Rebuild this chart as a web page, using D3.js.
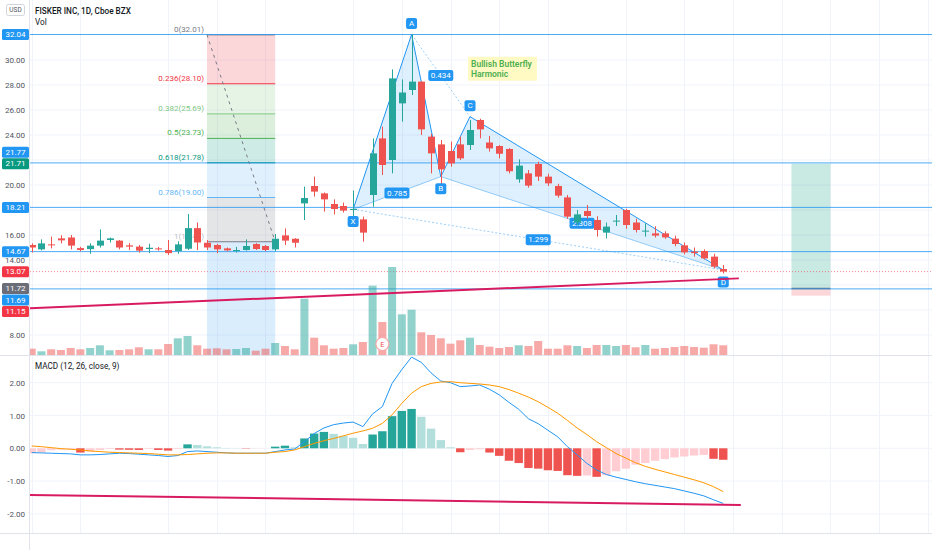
<!DOCTYPE html>
<html>
<head>
<meta charset="utf-8">
<script src="https://cdn.jsdelivr.net/npm/d3@7"></script>
<style>
  body { margin: 0; background: #fff; }
  svg { display: block; font-family: Roboto, "DejaVu Sans", sans-serif; }
</style>
</head>
<body>
<svg id="chart" width="932" height="550"></svg>
<script>
// trading sessions (2021), the last ones are future space on the time axis
const sessions = ["01-04","01-05","01-06","01-07","01-08","01-11","01-12","01-13","01-14","01-15","01-19","01-20","01-21","01-22","01-25","01-26","01-27","01-28","01-29",
  "02-01","02-02","02-03","02-04","02-05","02-08","02-09","02-10","02-11","02-12","02-16","02-17","02-18","02-19","02-22","02-23","02-24","02-25","02-26",
  "03-01","03-02","03-03","03-04","03-05","03-08","03-09","03-10","03-11","03-12","03-15","03-16","03-17","03-18","03-19","03-22","03-23","03-24","03-25","03-26","03-29","03-30","03-31",
  "04-01","04-05","04-06","04-07","04-08","04-09","04-12","04-13","04-14","04-15","04-16",
  "04-19","04-20","04-21","04-22","04-23","04-26","04-27","04-28","04-29","04-30","05-03","05-04","05-05","05-06","05-07","05-10","05-11","05-12","05-13","05-14","05-17"];

const opens = [15.2,14.85,15.25,15.73,15.8,14.95,14.87,15.15,15.6,15.55,15.17,15.07,14.88,14.93,14.8,14.72,14.9,16.55,15.38,15.2,14.93,14.75,14.8,15.28,15.12,14.85,15.97,15.7,18.53,19.92,19.33,18.48,18.32,18.03,17.25,19.2,23.73,22.0,26.53,27.6,28.27,23.87,23.25,22.72,23.25,23.2,25.2,23.4,23.12,22.88,20.45,20.93,21.68,20.67,19.92,19.01,16.99,17.92,17.2,16.19,17.1,18.0,17.0,16.27,16.13,16.13,15.71,15.17,14.67,14.72,14.27,13.28];
const highs = [15.33,15.65,15.87,15.98,16.0,15.05,15.33,16.45,15.8,15.6,15.35,15.2,15.3,15.05,15.6,15.5,17.68,17.0,15.6,15.3,15.0,15.05,15.65,15.35,15.2,16.08,16.53,15.75,19.87,20.67,19.4,18.85,18.6,19.55,17.47,23.73,24.67,29.25,28.45,32.04,28.3,24.1,23.6,23.47,23.87,25.2,25.3,23.92,23.2,22.95,22.05,21.2,21.87,20.9,20.1,19.2,18.0,18.4,17.5,17.0,17.6,18.1,17.3,16.93,16.7,16.3,15.95,15.4,15.0,14.85,14.5,13.6];
const lows = [14.6,14.77,14.93,15.33,14.85,14.7,14.5,15.0,15.4,14.85,14.8,14.6,14.55,14.75,14.4,14.5,14.8,14.8,14.8,14.55,14.7,14.6,14.75,14.8,14.7,14.72,15.2,15.0,17.2,19.07,17.87,17.65,17.8,17.47,15.47,18.27,20.8,20.93,25.07,27.2,24.0,20.93,19.28,21.47,22.0,22.8,23.73,22.67,22.13,20.93,20.18,19.79,20.32,19.92,18.99,17.3,16.8,17.3,15.87,15.73,16.72,16.5,16.2,15.87,15.8,15.7,15.1,14.45,14.27,14.05,13.33,12.93];
const closes = [15.0,15.33,15.18,15.57,15.15,14.8,15.15,15.55,15.73,15.0,15.07,14.75,14.98,14.87,14.55,15.25,16.55,15.4,15.0,14.85,14.77,14.8,15.12,14.88,14.8,15.7,15.55,15.38,18.96,19.47,18.85,18.08,17.95,18.08,16.19,22.53,21.6,28.53,27.4,28.27,24.45,22.53,21.25,21.73,22.13,24.4,24.45,22.93,22.5,21.1,21.55,19.95,20.67,20.13,19.15,17.47,17.65,17.52,16.4,16.67,17.15,16.8,16.4,16.35,15.95,15.81,15.28,14.61,14.55,14.13,13.47,13.07];
// volume, millions (approx)
const volumes = [6.3,3.7,5.7,5,7,5.7,7,9.7,4.7,5,5.7,7.7,5.7,5.7,11,16.7,19,9.7,6.3,6.7,5.7,6,7,4.3,6.3,12,9,5.7,56.3,17.3,9.7,6.3,7,10.7,13,69.3,33,88,40.7,45.3,22.7,20,16.7,11.3,14.7,17.3,10,8.3,7,8,9.7,9,14,6.3,6.3,9.7,9,7,10,10,9,10,7.7,10,6.3,7,8,9,8,7.3,10.7,9.7];

const macdLine = [-0.13,-0.14,-0.15,-0.16,-0.17,-0.2,-0.2,-0.19,-0.17,-0.15,-0.16,-0.18,-0.2,-0.22,-0.25,-0.22,-0.1,-0.08,-0.1,-0.12,-0.14,-0.15,-0.15,-0.15,-0.15,-0.1,-0.05,-0.02,0.2,0.45,0.62,0.72,0.77,0.8,0.66,1.05,1.27,1.98,2.4,2.78,2.62,2.3,2.05,2.0,1.88,1.9,1.93,1.8,1.63,1.4,1.19,0.9,0.75,0.55,0.35,0.05,-0.2,-0.46,-0.66,-0.8,-0.88,-0.95,-1.02,-1.08,-1.13,-1.18,-1.23,-1.3,-1.37,-1.45,-1.57,-1.68];
const signalLine = [0.07,0.05,0.02,-0.01,-0.03,-0.05,-0.08,-0.1,-0.12,-0.13,-0.14,-0.15,-0.16,-0.18,-0.2,-0.2,-0.19,-0.17,-0.15,-0.14,-0.14,-0.15,-0.15,-0.15,-0.15,-0.12,-0.1,-0.05,0.05,0.15,0.23,0.3,0.38,0.46,0.53,0.61,0.76,1.02,1.37,1.68,1.88,1.98,2.02,2.03,2.0,1.98,1.96,1.93,1.88,1.79,1.68,1.56,1.42,1.25,1.07,0.85,0.62,0.42,0.2,0.02,-0.16,-0.3,-0.44,-0.55,-0.64,-0.72,-0.8,-0.88,-0.96,-1.05,-1.17,-1.32];
const macdHist = [-0.15,-0.12,-0.06,-0.04,-0.03,-0.13,-0.1,-0.05,-0.02,-0.04,-0.045,-0.05,-0.02,-0.05,-0.07,-0.02,0.12,0.1,0.06,0.03,0.01,0.005,-0.01,-0.005,-0.002,0.05,0.08,0.03,0.3,0.45,0.5,0.44,0.38,0.32,0.13,0.42,0.52,0.98,1.14,1.2,0.96,0.6,0.25,0.03,-0.12,-0.05,-0.03,-0.13,-0.23,-0.38,-0.45,-0.6,-0.62,-0.67,-0.69,-0.82,-0.84,-0.83,-0.87,-0.82,-0.7,-0.62,-0.5,-0.45,-0.38,-0.33,-0.28,-0.25,-0.22,-0.2,-0.32,-0.35];

const priceTicks = [8,10,12,14,16,18,20,22,24,26,28,30];
const macdTicks = [-2,-1,0,1,2];
const xTickDates = ["01-04","01-11","01-25","02-01","02-08","02-22","03-01","03-08","03-15","03-22","04-01","04-12","04-19","04-26","05-03","05-10","05-17"];
const xTickLabels = ["2021","11","25","Feb","8","22","Mar","8","15","22","Apr","12","19","26","May","10","17"];

// drawings
const hLines = [32.04, 21.77, 18.21, 14.67, 11.69];
const lastPrice = 13.07;
const tagValues = [32.04, 21.71, 21.77, 18.21, 14.67, 13.07, 11.72, 11.69, 11.15];
const tagColors = ["#2196f3","#089981","#2196f3","#2196f3","#2196f3","#f23645","#6a6d78","#2196f3","#f23645"];

const fibLevels = [0, 0.236, 0.382, 0.5, 0.618, 0.786, 1, 1.618];
const fibValues = [32.01, 28.10, 25.69, 23.73, 21.78, 19.00, 15.46, 5.23];
const fibColors = ["#787b86","#f23645","#81c784","#4caf50","#089981","#64b5f6","#787b86","#2196f3"];
const fibDates = ["01-29", "02-09"];

const patternNames = ["X","A","B","C","D"];
const patternDates = ["02-22","03-02","03-05","03-10","04-16"];
const patternPrices = [18.05, 32.04, 20.67, 25.47, 13.2];
const patternRatios = [["X","B","0.785"],["A","C","0.434"],["B","D","2.308"],["X","D","1.299"]];

const trendDates = [-0.2, 72.6];       // session index
const trendPrices = [10.13, 12.53];
const macdTrendDates = [-0.2, 72.8];
const macdTrendValues = [-1.42, -1.73];

const longDates = ["04-27", "05-03"];
const longEntry = 11.72, longTarget = 21.71, longStop = 11.15;

const svg = d3.select('#chart');
const W = 932, plotLeft = 30, priceBottom = 355, macdTop = 356, macdBottom = 533;
const idx = d => typeof d === 'number' ? d : sessions.indexOf(d);

const x = d3.scaleLinear().domain([0, sessions.length - 1]).range([31.7, 927.8]);
const y = d3.scaleLinear().domain([8, 30]).range([335, 60]);
const yVol = d3.scaleLinear().domain([0, d3.max(volumes)]).range([priceBottom, 267]);
const yMacd = d3.scaleLinear().domain([-2, 2]).range([513.9, 382.7]);
const up = i => closes[i] >= opens[i];

const defs = svg.append('defs');
defs.append('clipPath').attr('id', 'clipPrice').append('rect')
  .attr('x', plotLeft).attr('y', 0).attr('width', W - plotLeft).attr('height', priceBottom);
defs.append('clipPath').attr('id', 'clipMacd').append('rect')
  .attr('x', plotLeft).attr('y', macdTop).attr('width', W - plotLeft).attr('height', macdBottom - macdTop);
defs.append('clipPath').attr('id', 'clipAxis').append('rect')
  .attr('x', plotLeft).attr('y', macdBottom).attr('width', W - plotLeft).attr('height', 20);

// grid
const grid = svg.append('g').attr('stroke', '#f0f3fa').attr('stroke-width', 1);
grid.selectAll('line.v').data(xTickDates).join('line')
  .attr('x1', d => Math.round(x(idx(d))) + 0.5).attr('x2', d => Math.round(x(idx(d))) + 0.5)
  .attr('y1', 0).attr('y2', macdBottom);
grid.selectAll('line.hp').data(priceTicks).join('line')
  .attr('x1', plotLeft).attr('x2', W).attr('y1', d => y(d)).attr('y2', d => y(d));
grid.selectAll('line.hm').data(macdTicks).join('line')
  .attr('x1', plotLeft).attr('x2', W).attr('y1', d => yMacd(d)).attr('y2', d => yMacd(d));

const pricePane = svg.append('g').attr('clip-path', 'url(#clipPrice)');
const macdPane = svg.append('g').attr('clip-path', 'url(#clipMacd)');

// fib retracement
const fx0 = x(idx(fibDates[0])), fx1 = x(idx(fibDates[1]));
for (let k = 0; k < fibLevels.length - 1; k++) {
  pricePane.append('rect')
    .attr('x', fx0).attr('width', fx1 - fx0)
    .attr('y', y(fibValues[k])).attr('height', y(fibValues[k + 1]) - y(fibValues[k]))
    .attr('fill', fibColors[k + 1]).attr('fill-opacity', k === fibLevels.length - 2 ? 0.17 : 0.2);
}
fibLevels.forEach((lv, k) => {
  if (lv > 1) return;
  pricePane.append('line')
    .attr('x1', fx0).attr('x2', fx1).attr('y1', y(fibValues[k])).attr('y2', y(fibValues[k]))
    .attr('stroke', fibColors[k]).attr('stroke-width', 1);
  pricePane.append('text')
    .attr('x', fx0 - 3).attr('y', y(fibValues[k]) - 3)
    .attr('text-anchor', 'end').attr('font-size', 8).attr('fill', fibColors[k])
    .attr('fill-opacity', lv === 1 ? 0.5 : 1)
    .text(lv + '(' + fibValues[k].toFixed(2) + ')');
});
pricePane.append('line')
  .attr('x1', fx0).attr('y1', y(fibValues[0])).attr('x2', fx1).attr('y2', y(fibValues[6]))
  .attr('stroke', '#787b86').attr('stroke-dasharray', '3,4').attr('stroke-width', 1);

// long position
const lx0 = x(idx(longDates[0])), lx1 = x(idx(longDates[1]));
pricePane.append('rect').attr('x', lx0).attr('width', lx1 - lx0)
  .attr('y', y(longTarget)).attr('height', y(longEntry) - y(longTarget))
  .attr('fill', '#089981').attr('fill-opacity', 0.22);
pricePane.append('rect').attr('x', lx0).attr('width', lx1 - lx0)
  .attr('y', y(longEntry)).attr('height', y(longStop) - y(longEntry))
  .attr('fill', '#f23645').attr('fill-opacity', 0.2);
pricePane.append('line').attr('x1', lx0).attr('x2', lx1)
  .attr('y1', y(longEntry)).attr('y2', y(longEntry)).attr('stroke', '#787b86').attr('stroke-width', 1.5);

// horizontal lines
pricePane.selectAll('line.h').data(hLines).join('line')
  .attr('x1', plotLeft).attr('x2', W)
  .attr('y1', d => y(d)).attr('y2', d => y(d))
  .attr('stroke', '#2196f3').attr('stroke-opacity', 0.8).attr('stroke-width', 1);
pricePane.append('line')
  .attr('x1', plotLeft).attr('x2', W).attr('y1', y(lastPrice)).attr('y2', y(lastPrice))
  .attr('stroke', '#f23645').attr('stroke-opacity', 0.6).attr('stroke-dasharray', '1,2');

// volume
pricePane.selectAll('rect.vol').data(volumes).join('rect')
  .attr('x', (d, i) => x(i) - 4).attr('width', 8)
  .attr('y', d => yVol(d)).attr('height', d => priceBottom - yVol(d))
  .attr('fill', (d, i) => up(i) ? '#26a69a' : '#ef5350').attr('fill-opacity', 0.5);

// harmonic pattern (fills, lines, ratios)
const pts = {};
patternNames.forEach((n, i) => { pts[n] = [x(idx(patternDates[i])), y(patternPrices[i])]; });
const tri = (a, b, c) => 'M' + [pts[a], pts[b], pts[c]].map(p => p.join(',')).join('L') + 'Z';
pricePane.append('path').attr('d', tri('X', 'A', 'B')).attr('fill', '#2196f3').attr('fill-opacity', 0.15);
pricePane.append('path').attr('d', tri('B', 'C', 'D')).attr('fill', '#2196f3').attr('fill-opacity', 0.15);
[['X','A'],['A','B'],['B','C'],['C','D']].forEach(([a, b]) => {
  pricePane.append('line').attr('x1', pts[a][0]).attr('y1', pts[a][1]).attr('x2', pts[b][0]).attr('y2', pts[b][1])
    .attr('stroke', '#2196f3').attr('stroke-width', 1);
});
patternRatios.forEach(([a, b]) => {
  pricePane.append('line').attr('x1', pts[a][0]).attr('y1', pts[a][1]).attr('x2', pts[b][0]).attr('y2', pts[b][1])
    .attr('stroke', '#2196f3').attr('stroke-opacity', 0.45).attr('stroke-width', 1)
    .attr('stroke-dasharray', (a === 'A' || b === 'D' && a === 'X') ? '2,2' : null);
});

function blueTag(g, cx, cy, text, w, h) {
  g.append('rect').attr('x', cx - w / 2).attr('y', cy - h / 2).attr('width', w).attr('height', h)
    .attr('rx', 2).attr('fill', '#2196f3');
  g.append('text').attr('x', cx).attr('y', cy).attr('dy', '0.35em').attr('text-anchor', 'middle')
    .attr('fill', '#fff').attr('font-size', 8).text(text);
}
patternRatios.forEach(([a, b, r]) => {
  blueTag(pricePane, (pts[a][0] + pts[b][0]) / 2, (pts[a][1] + pts[b][1]) / 2, r, 25, 11);
});

// candles
const candles = pricePane.append('g').selectAll('g').data(closes).join('g')
  .attr('fill', (d, i) => up(i) ? '#26a69a' : '#ef5350')
  .attr('stroke', (d, i) => up(i) ? '#26a69a' : '#ef5350');
candles.append('line')
  .attr('x1', (d, i) => Math.round(x(i)) + 0.5).attr('x2', (d, i) => Math.round(x(i)) + 0.5)
  .attr('y1', (d, i) => y(highs[i])).attr('y2', (d, i) => y(lows[i])).attr('stroke-width', 1);
candles.append('rect')
  .attr('x', (d, i) => Math.round(x(i)) - 3).attr('width', 7)
  .attr('y', (d, i) => y(Math.max(opens[i], closes[i])))
  .attr('height', (d, i) => Math.max(1, Math.abs(y(opens[i]) - y(closes[i]))))
  .attr('stroke', 'none');

// pattern point labels
patternNames.forEach((n, i) => {
  const isHigh = n === 'A' || n === 'C';
  blueTag(pricePane, pts[n][0], pts[n][1] + (isHigh ? -11 : 12), n, 11, 11);
});

// text note
const noteX = x(idx("03-10")), noteY = y(30.1);
pricePane.append('rect').attr('x', noteX - 2).attr('y', noteY - 2).attr('width', 69).attr('height', 24)
  .attr('fill', '#fff9c4');
pricePane.selectAll('text.note').data(["Bullish Butterfly", "Harmonic"]).join('text')
  .attr('x', noteX + 1).attr('y', (d, i) => noteY + 8 + i * 10)
  .attr('font-size', 8.5).attr('font-weight', 600).attr('fill', '#4caf50').text(d => d);

// trend line (price)
pricePane.append('line')
  .attr('x1', x(trendDates[0])).attr('y1', y(trendPrices[0]))
  .attr('x2', x(trendDates[1])).attr('y2', y(trendPrices[1]))
  .attr('stroke', '#d81b60').attr('stroke-width', 2);

// earnings marker
const eX = x(idx("02-25")), eY = priceBottom - 11;
pricePane.append('circle').attr('cx', eX).attr('cy', eY).attr('r', 6.5)
  .attr('fill', '#fff').attr('stroke', '#f7a9a7').attr('stroke-width', 1.2);
pricePane.append('text').attr('x', eX).attr('y', eY).attr('dy', '0.35em').attr('text-anchor', 'middle')
  .attr('font-size', 7.5).attr('fill', '#ef5350').text('E');

// MACD pane
macdPane.selectAll('rect.hist').data(macdHist).join('rect')
  .attr('x', (d, i) => x(i) - 4.2).attr('width', 8.4)
  .attr('y', d => Math.min(yMacd(d), yMacd(0)))
  .attr('height', d => Math.abs(yMacd(d) - yMacd(0)))
  .attr('fill', (d, i) => {
    const prev = i > 0 ? macdHist[i - 1] : d;
    if (d >= 0) return d >= prev ? '#26a69a' : '#b2dfdb';
    return d < prev ? '#ef5350' : '#ffcdd2';
  });
const line = d3.line().x((d, i) => x(i)).y(d => yMacd(d));
macdPane.append('path').datum(macdLine).attr('d', line)
  .attr('fill', 'none').attr('stroke', '#2196f3').attr('stroke-width', 1);
macdPane.append('path').datum(signalLine).attr('d', line)
  .attr('fill', 'none').attr('stroke', '#ff9800').attr('stroke-width', 1);
macdPane.append('line')
  .attr('x1', x(macdTrendDates[0])).attr('y1', yMacd(macdTrendValues[0]))
  .attr('x2', x(macdTrendDates[1])).attr('y2', yMacd(macdTrendValues[1]))
  .attr('stroke', '#d81b60').attr('stroke-width', 2);
// the MACD line peak pokes over the pane top a little
svg.append('path').datum(macdLine).attr('d', line).attr('fill', 'none')
  .attr('stroke', '#2196f3').attr('stroke-width', 1)
  .attr('clip-path', 'url(#clipPrice)');

// pane borders
svg.append('line').attr('x1', 0).attr('x2', W).attr('y1', priceBottom + 0.5).attr('y2', priceBottom + 0.5)
  .attr('stroke', '#e0e3eb');
svg.append('line').attr('x1', 0).attr('x2', W).attr('y1', macdBottom + 0.5).attr('y2', macdBottom + 0.5)
  .attr('stroke', '#e0e3eb');
svg.append('line').attr('x1', plotLeft - 0.5).attr('x2', plotLeft - 0.5).attr('y1', 0).attr('y2', 550)
  .attr('stroke', '#e0e3eb');

// price tags on the scale, nudged apart where they collide
const placed = [];
tagValues.forEach((v, k) => {
  let ty = y(v);
  for (let n = 0; n < 10; n++) {
    const hit = placed.find(p => Math.abs(p.ty - ty) < 11.5);
    if (!hit) break;
    ty = v > hit.v ? hit.ty - 11.5 : hit.ty + 11.5;
  }
  placed.push({ v, ty, c: tagColors[k] });
});

// axes (tick labels hidden behind a price tag are left out, as the scale does)
const styleAxis = g => {
  g.select('.domain').remove();
  g.attr('font-family', 'Roboto, "DejaVu Sans", sans-serif').attr('font-size', 8);
  g.selectAll('text').attr('fill', '#50535e');
};
const freeTicks = priceTicks.filter(t => !placed.some(p => Math.abs(p.ty - y(t)) < 8));
svg.append('g').attr('transform', 'translate(25,0)')
  .call(d3.axisLeft(y).tickValues(freeTicks).tickFormat(d3.format('.2f')).tickSize(0).tickPadding(0))
  .call(styleAxis);
svg.append('g').attr('transform', 'translate(25,0)')
  .call(d3.axisLeft(yMacd).tickValues(macdTicks).tickFormat(d => d3.format('.2f')(d).replace('\u2212', '-')).tickSize(0).tickPadding(0))
  .call(styleAxis);
svg.append('g').attr('transform', 'translate(0,' + macdBottom + ')').attr('clip-path', 'url(#clipAxis)')
  .call(d3.axisBottom(x).tickValues(xTickDates.map(idx)).tickFormat((d, i) => xTickLabels[i]).tickSize(0).tickPadding(5))
  .call(styleAxis);

const tags = svg.append('g').selectAll('g').data(placed).join('g');
tags.append('rect').attr('x', 2).attr('y', d => d.ty - 5.5).attr('width', 27).attr('height', 11)
  .attr('rx', 1.5).attr('fill', d => d.c);
tags.append('text').attr('x', 15.5).attr('y', d => d.ty).attr('dy', '0.35em').attr('text-anchor', 'middle')
  .attr('font-size', 8).attr('fill', '#fff').text(d => d.v.toFixed(2));

// header
svg.append('rect').attr('x', 6.5).attr('y', 4.5).attr('width', 18).attr('height', 11).attr('rx', 2)
  .attr('fill', '#fff').attr('stroke', '#d1d4dc');
svg.append('text').attr('x', 15.5).attr('y', 10).attr('dy', '0.35em').attr('text-anchor', 'middle')
  .attr('font-size', 6.5).attr('fill', '#50535e').text('USD');
svg.append('text').attr('x', 35).attr('y', 14).attr('font-size', 8.2).attr('font-weight', 500)
  .attr('fill', '#131722').text('FISKER INC, 1D, Cboe BZX');
svg.append('text').attr('x', 35).attr('y', 25).attr('font-size', 8.2).attr('fill', '#131722').text('Vol');
svg.append('text').attr('x', 35).attr('y', 369).attr('font-size', 8.2).attr('fill', '#131722')
  .text('MACD (12, 26, close, 9)');
</script>
</body>
</html>
